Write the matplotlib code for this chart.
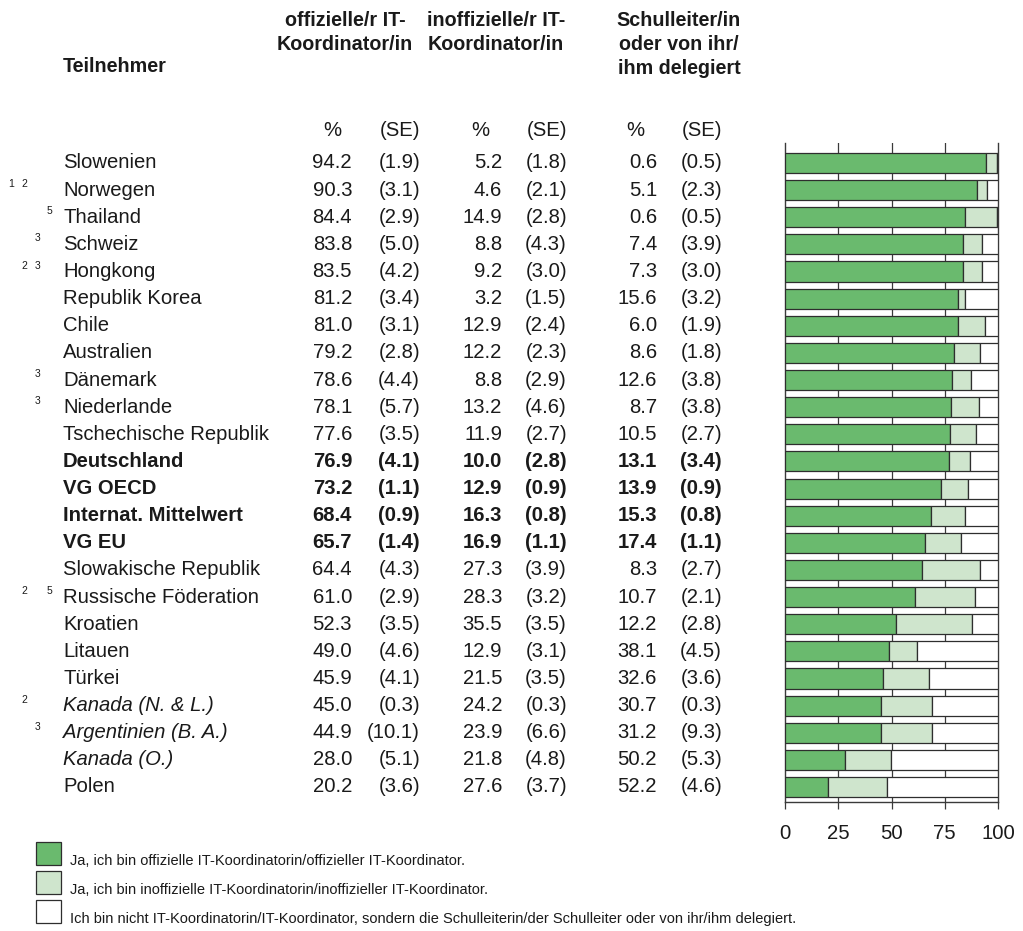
import matplotlib
matplotlib.use('Agg')
import matplotlib.pyplot as plt

plt.rcParams['font.family'] = ['Liberation Sans', 'DejaVu Sans']

# Data
teilnehmer = ['Slowenien', 'Norwegen', 'Thailand', 'Schweiz', 'Hongkong',
              'Republik Korea', 'Chile', 'Australien', 'Dänemark', 'Niederlande',
              'Tschechische Republik', 'Deutschland', 'VG OECD',
              'Internat. Mittelwert', 'VG EU', 'Slowakische Republik',
              'Russische Föderation', 'Kroatien', 'Litauen', 'Türkei',
              'Kanada (N. & L.)', 'Argentinien (B. A.)', 'Kanada (O.)', 'Polen']
fussnoten = ['', '1 2', '5', '3', '2 3', '', '', '', '3', '3', '', '', '', '',
             '', '', '2 5', '', '', '', '2', '3', '', '']
fett = ['Deutschland', 'VG OECD', 'Internat. Mittelwert', 'VG EU']
kursiv = ['Kanada (N. & L.)', 'Argentinien (B. A.)', 'Kanada (O.)']

offiziell = [94.2, 90.3, 84.4, 83.8, 83.5, 81.2, 81.0, 79.2, 78.6, 78.1, 77.6,
             76.9, 73.2, 68.4, 65.7, 64.4, 61.0, 52.3, 49.0, 45.9, 45.0, 44.9,
             28.0, 20.2]
offiziell_se = [1.9, 3.1, 2.9, 5.0, 4.2, 3.4, 3.1, 2.8, 4.4, 5.7, 3.5, 4.1, 1.1,
                0.9, 1.4, 4.3, 2.9, 3.5, 4.6, 4.1, 0.3, 10.1, 5.1, 3.6]
inoffiziell = [5.2, 4.6, 14.9, 8.8, 9.2, 3.2, 12.9, 12.2, 8.8, 13.2, 11.9, 10.0,
               12.9, 16.3, 16.9, 27.3, 28.3, 35.5, 12.9, 21.5, 24.2, 23.9, 21.8,
               27.6]
inoffiziell_se = [1.8, 2.1, 2.8, 4.3, 3.0, 1.5, 2.4, 2.3, 2.9, 4.6, 2.7, 2.8, 0.9,
                  0.8, 1.1, 3.9, 3.2, 3.5, 3.1, 3.5, 0.3, 6.6, 4.8, 3.7]
schulleiter = [0.6, 5.1, 0.6, 7.4, 7.3, 15.6, 6.0, 8.6, 12.6, 8.7, 10.5, 13.1,
               13.9, 15.3, 17.4, 8.3, 10.7, 12.2, 38.1, 32.6, 30.7, 31.2, 50.2,
               52.2]
schulleiter_se = [0.5, 2.3, 0.5, 3.9, 3.0, 3.2, 1.9, 1.8, 3.8, 3.8, 2.7, 3.4, 0.9,
                  0.8, 1.1, 2.7, 2.1, 2.8, 4.5, 3.6, 0.3, 9.3, 5.3, 4.6]

legende = ['Ja, ich bin offizielle IT-Koordinatorin/offizieller IT-Koordinator.',
           'Ja, ich bin inoffizielle IT-Koordinatorin/inoffizieller IT-Koordinator.',
           'Ich bin nicht IT-Koordinatorin/IT-Koordinator, sondern die '
           'Schulleiterin/der Schulleiter oder von ihr/ihm delegiert.']

GREEN = '#6aba6e'
LIGHT = '#cfe5cd'
EDGE = '#2e2e2e'
TXT = '#1a1a1a'
FS = 14.6

W, H = 1023, 931
fig = plt.figure(figsize=(W / 100, H / 100), dpi=100)

# text layer in pixel coordinates
ax0 = fig.add_axes([0, 0, 1, 1])
ax0.set_xlim(0, W)
ax0.set_ylim(H, 0)
ax0.axis('off')

ROW0, STEP = 163, 27.13


def row_y(i):
    return ROW0 + STEP * i


# column headers
kopf = [(345, ['offizielle/r IT-', 'Koordinator/in']),
        (496, ['inoffizielle/r IT-', 'Koordinator/in']),
        (679, ['Schulleiter/in', 'oder von ihr/', 'ihm delegiert'])]
for xc, lines in kopf:
    for k, line in enumerate(lines):
        ax0.text(xc, 20 + 24 * k, line, ha='center', va='center',
                 fontsize=14.2, fontweight='bold', color=TXT)
ax0.text(63, 66, 'Teilnehmer', ha='left', va='center', fontsize=14.2,
         fontweight='bold', color=TXT)

pct_x = [352, 502, 657]
se_x = [420, 567, 722]
pct_head_x = [332, 480, 635]
for px, sx in zip(pct_head_x, se_x):
    ax0.text(px, 131, '%', ha='center', va='center', fontsize=FS, color=TXT)
    ax0.text(sx, 131, '(SE)', ha='right', va='center', fontsize=FS, color=TXT)

fn_x = {'1': 11, '2': 24, '3': 38, '5': 49}
werte = [(offiziell, offiziell_se), (inoffiziell, inoffiziell_se),
         (schulleiter, schulleiter_se)]
for i, name in enumerate(teilnehmer):
    y = row_y(i)
    weight = 'bold' if name in fett else 'normal'
    style = 'italic' if name in kursiv else 'normal'
    ax0.text(63, y, name, ha='left', va='center', fontsize=FS,
             fontweight=weight, fontstyle=style, color=TXT)
    for d in fussnoten[i].split():
        ax0.text(fn_x[d], y - 6, d, ha='center', va='center', fontsize=7.5,
                 color=TXT)
    for (vals, ses), px, sx in zip(werte, pct_x, se_x):
        ax0.text(px, y, f'{vals[i]:.1f}', ha='right', va='center', fontsize=FS,
                 fontweight=weight, color=TXT)
        ax0.text(sx, y, f'({ses[i]:.1f})', ha='right', va='center', fontsize=FS,
                 fontweight=weight, color=TXT)

# legend
for k, (col, lab) in enumerate(zip([GREEN, LIGHT, 'white'], legende)):
    top = 842 + 29 * k
    ax0.add_patch(plt.Rectangle((36, top), 25, 23, facecolor=col,
                                edgecolor=EDGE, linewidth=0.9))
    ax0.text(70, top + 23, lab, ha='left', va='baseline', fontsize=10.5,
             color=TXT)

# bar chart
x_left, x_right, y_top, y_bot = 785, 998, 143, 802
ax = fig.add_axes([x_left / W, 1 - y_bot / H, (x_right - x_left) / W,
                   (y_bot - y_top) / H])
rows = list(range(len(teilnehmer)))
left2 = [a for a in offiziell]
left3 = [a + b for a, b in zip(offiziell, inoffiziell)]
ax.barh(rows, offiziell, height=0.74, color=GREEN, edgecolor=EDGE,
        linewidth=0.9, zorder=3)
ax.barh(rows, inoffiziell, left=left2, height=0.74, color=LIGHT,
        edgecolor=EDGE, linewidth=0.9, zorder=3)
ax.barh(rows, schulleiter, left=left3, height=0.74, color='white',
        edgecolor=EDGE, linewidth=0.9, zorder=3)
for g in [25, 50, 75]:
    ax.axvline(g, color='#3a3a3a', linewidth=0.9, zorder=1)
ax.set_xlim(0, 100)
ax.set_ylim((y_bot - ROW0) / STEP, (y_top - ROW0) / STEP)
ax.set_xticks([0, 25, 50, 75, 100])
ax.set_yticks([])
ax.tick_params(axis='x', direction='out', length=5, width=0.9,
               color='#3a3a3a', labelsize=FS, labelcolor=TXT, pad=11)
ax.spines['top'].set_visible(False)
for s in ['left', 'right', 'bottom']:
    ax.spines[s].set_color('#3a3a3a')
    ax.spines[s].set_linewidth(1.0)

fig.savefig('out.png', dpi=100)
